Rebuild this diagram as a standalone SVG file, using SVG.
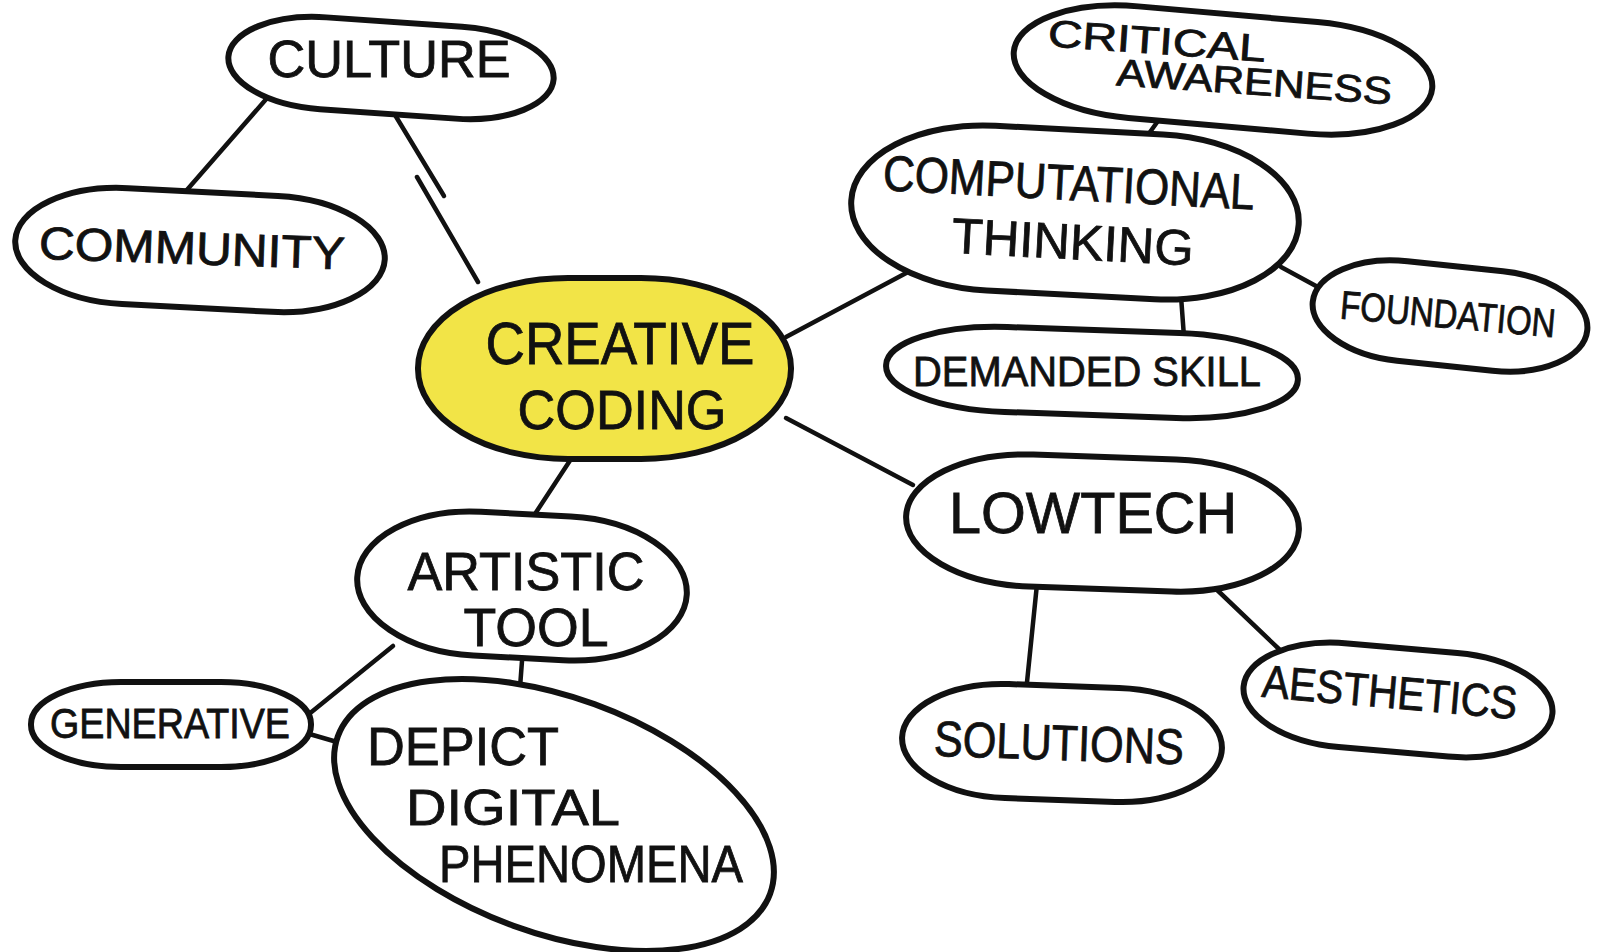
<svg xmlns="http://www.w3.org/2000/svg" width="1600" height="952" viewBox="0 0 1600 952">
<style>
.n{fill:#fff;stroke:#111;stroke-width:6;stroke-linejoin:round}
.y{fill:#f2e447}
.c{stroke:#111;stroke-width:4.5;stroke-linecap:round;fill:none}
text{font-family:"Liberation Sans","DejaVu Sans",sans-serif;fill:#111;stroke:#111;stroke-width:0.8;text-anchor:middle}
</style>
<rect width="1600" height="952" fill="#fff"/>
<g id="connectors">
<line class="c" x1="268" y1="97" x2="186" y2="191"/>
<line class="c" x1="392" y1="110" x2="444" y2="196"/>
<line class="c" x1="417" y1="177" x2="478" y2="282"/>
<line class="c" x1="786" y1="337" x2="925" y2="263"/>
<line class="c" x1="786" y1="418" x2="913" y2="485"/>
<line class="c" x1="571" y1="459" x2="533" y2="517"/>
<line class="c" x1="1145" y1="139" x2="1163" y2="114"/>
<line class="c" x1="1281" y1="267" x2="1316" y2="286"/>
<line class="c" x1="1181" y1="296" x2="1184" y2="337"/>
<line class="c" x1="1037" y1="584" x2="1026" y2="692"/>
<line class="c" x1="1214" y1="587" x2="1281" y2="651"/>
<line class="c" x1="393" y1="646" x2="309" y2="714"/>
<line class="c" x1="522" y1="661" x2="518" y2="714"/>
<line class="c" x1="306" y1="733" x2="337" y2="742"/>
</g>
<g id="culture">
<rect class="n" x="228" y="22" width="326" height="92" rx="95" ry="46" transform="rotate(4 391 68)"/>
<text x="389" y="77" font-size="52" textLength="243" lengthAdjust="spacingAndGlyphs">CULTURE</text>
</g>
<g id="community">
<rect class="n" x="15" y="192" width="370" height="116" rx="110" ry="58" transform="rotate(3 200 250)"/>
<text x="192" y="264" font-size="46" textLength="306" lengthAdjust="spacingAndGlyphs" transform="rotate(2 192 245)">COMMUNITY</text>
</g>
<g id="creative-coding">
<rect class="n y" x="418" y="278" width="373" height="181" rx="150" ry="90"/>
<text x="620" y="364" font-size="60" textLength="269" lengthAdjust="spacingAndGlyphs">CREATIVE</text>
<text x="622" y="429" font-size="56" textLength="209" lengthAdjust="spacingAndGlyphs">CODING</text>
</g>
<g id="critical-awareness">
<rect class="n" x="1013" y="14" width="420" height="112" rx="120" ry="56" transform="rotate(5 1223 70)"/>
<g transform="rotate(4 1215 56)">
<text x="1156" y="58" font-size="38" textLength="218" lengthAdjust="spacingAndGlyphs">CRITICAL</text>
<text x="1256" y="92" font-size="38" textLength="276" lengthAdjust="spacingAndGlyphs">AWARENESS</text>
</g>
</g>
<g id="computational-thinking">
<rect class="n" x="851" y="130" width="448" height="165" rx="140" ry="82" transform="rotate(3 1075 212)"/>
<g transform="rotate(3 1070 200)">
<text x="1068" y="200" font-size="50" textLength="372" lengthAdjust="spacingAndGlyphs">COMPUTATIONAL</text>
<text x="1075" y="259" font-size="50" textLength="242" lengthAdjust="spacingAndGlyphs">THINKING</text>
</g>
</g>
<g id="foundation">
<rect class="n" x="1312" y="266" width="276" height="100" rx="90" ry="50" transform="rotate(6 1450 316)"/>
<text x="1448" y="328" font-size="40" textLength="216" lengthAdjust="spacingAndGlyphs" transform="rotate(5 1448 314)">FOUNDATION</text>
</g>
<g id="demanded-skill">
<rect class="n" x="886" y="330" width="412" height="85" rx="120" ry="42" transform="rotate(2 1092 372)"/>
<text x="1087" y="386" font-size="42" textLength="348" lengthAdjust="spacingAndGlyphs">DEMANDED SKILL</text>
</g>
<g id="lowtech">
<rect class="n" x="906" y="457" width="393" height="132" rx="125" ry="66" transform="rotate(2 1102 523)"/>
<text x="1093" y="533" font-size="58" textLength="288" lengthAdjust="spacingAndGlyphs">LOWTECH</text>
</g>
<g id="artistic-tool">
<rect class="n" x="357" y="514" width="330" height="144" rx="120" ry="72" transform="rotate(3 522 586)"/>
<text x="526" y="590" font-size="54" textLength="237" lengthAdjust="spacingAndGlyphs">ARTISTIC</text>
<text x="536" y="646" font-size="54" textLength="145" lengthAdjust="spacingAndGlyphs">TOOL</text>
</g>
<g id="generative">
<rect class="n" x="31" y="682" width="280" height="85" rx="90" ry="42"/>
<text x="170" y="738" font-size="42" textLength="240" lengthAdjust="spacingAndGlyphs">GENERATIVE</text>
</g>
<g id="depict-digital-phenomena">
<ellipse class="n" cx="554" cy="815" rx="230" ry="118" transform="rotate(20 554 815)"/>
<text x="463" y="765" font-size="54" textLength="192" lengthAdjust="spacingAndGlyphs">DEPICT</text>
<text x="513" y="825" font-size="50" textLength="214" lengthAdjust="spacingAndGlyphs">DIGITAL</text>
<text x="591" y="882" font-size="52" textLength="304" lengthAdjust="spacingAndGlyphs">PHENOMENA</text>
</g>
<g id="solutions">
<rect class="n" x="902" y="686" width="320" height="114" rx="105" ry="57" transform="rotate(2 1062 743)"/>
<text x="1059" y="760" font-size="50" textLength="250" lengthAdjust="spacingAndGlyphs" transform="rotate(2 1059 740)">SOLUTIONS</text>
</g>
<g id="aesthetics">
<rect class="n" x="1243" y="648" width="310" height="104" rx="100" ry="52" transform="rotate(5 1398 700)"/>
<text x="1390" y="708" font-size="46" textLength="256" lengthAdjust="spacingAndGlyphs" transform="rotate(5 1390 690)">AESTHETICS</text>
</g>
</svg>
